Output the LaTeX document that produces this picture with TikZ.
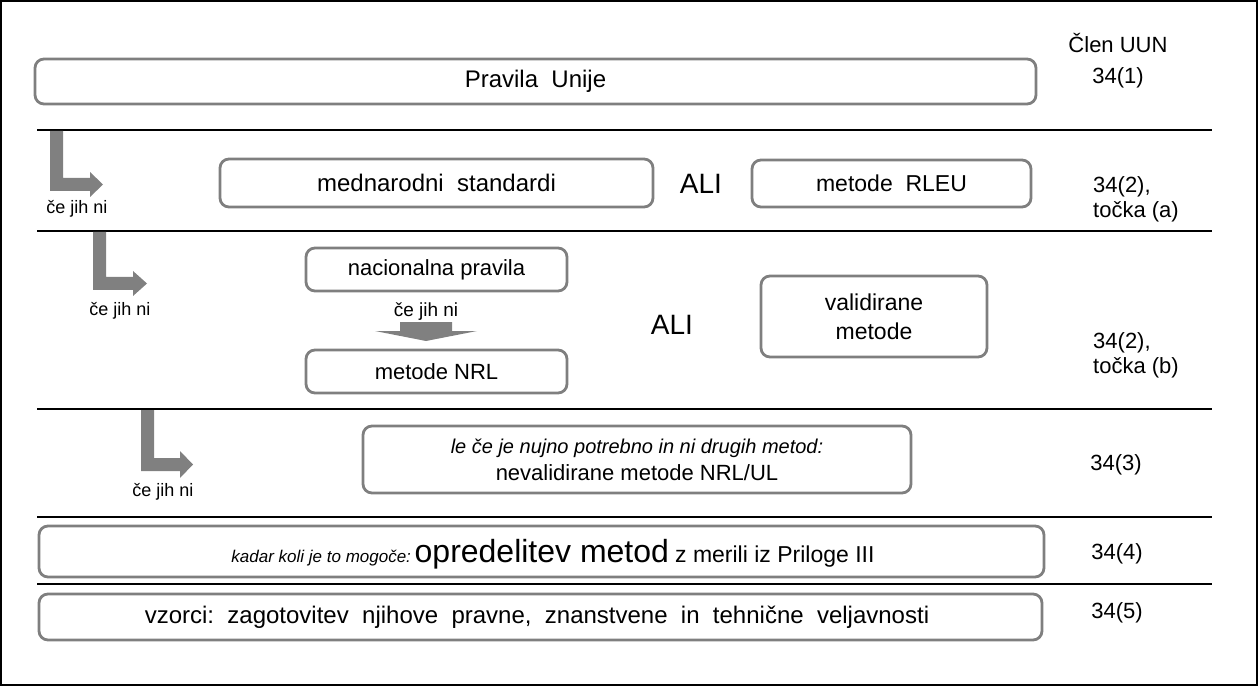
\documentclass[tikz,border=0pt]{standalone}
\usepackage{fontspec}
\setmainfont{Liberation Sans}
\definecolor{boxgray}{HTML}{7F7F7F}
\definecolor{arrgray}{HTML}{808080}
\newcommand{\fs}[1]{\fontsize{#1}{#1}\selectfont}
\begin{document}
\begin{tikzpicture}[x=1pt,y=-1pt,
  gbox/.style={draw=boxgray,line width=2.8pt,rounded corners=9pt,inner sep=0pt,align=center,font=\fs{22}},
  txt/.style={inner sep=0pt,align=center,font=\fs{22}},
  ali/.style={inner sep=0pt,font=\fs{28}},
  small/.style={inner sep=0pt,font=\fs{18}},
  sep/.style={line width=1.6pt,black},
  larrow/.style={fill=arrgray,draw=none}]
\useasboundingbox (0,0) rectangle (1259,687);
\draw[line width=1.8pt] (1,1) rectangle (1257,685);
% separators
\coordinate (s1l) at (37,130); \coordinate (s1r) at (1212,130);
\coordinate (s2l) at (37,231); \coordinate (s2r) at (1212,231);
\coordinate (s3l) at (37,409); \coordinate (s3r) at (1212,409);
\coordinate (s4l) at (37,517); \coordinate (s4r) at (1212,517);
\coordinate (s5l) at (37,584); \coordinate (s5r) at (1212,584);
\draw[sep] (s1l) -- (s1r);
\draw[sep] (s2l) -- (s2r);
\draw[sep] (s3l) -- (s3r);
\draw[sep] (s4l) -- (s4r);
\draw[sep] (s5l) -- (s5r);
% header
\node[txt] (hdr) at (1118,43) {Člen UUN};
% row 1
\node[gbox,minimum width=1001pt,minimum height=45pt] (pu) at (535.5,81.5) {\fs{24}Pravila\ \ Unije};
\node[txt] (c1) at (1118,78) {34(1)};
% row 2
\node[gbox,minimum width=433pt,minimum height=48pt] (ms) at (436.5,183) {\fs{24}mednarodni\ \ standardi};
\node[ali] (ali1) at (701,184) {ALI};
\node[gbox,minimum width=279pt,minimum height=47pt] (rleu) at (891.5,183.5) {\fs{23}metode\ \ RLEU};
\node[txt,anchor=west,align=left] (c2) at (1093,199) {34(2),\\[3pt]točka (a)};
\fill[larrow] (50,131) -- (63,131) -- (63,178) -- (90,178) -- (90,172) -- (103,184.5) -- (90,197) -- (90,191) -- (50,191) -- cycle;
\node[small] (cj1) at (77,209) {če jih ni};
% row 3
\node[gbox,minimum width=261pt,minimum height=43pt] (np) at (436.5,269.5) {nacionalna pravila};
\node[gbox,minimum width=261pt,minimum height=43pt] (nrl) at (436.5,371.5) {metode NRL};
\node[small,font=\fs{19}] (cj2) at (426,312) {če jih ni};
\fill[larrow] (400,322) -- (452,322) -- (452,331) -- (477,331) -- (426,341) -- (375,331) -- (400,331) -- cycle;
\node[ali] (ali2) at (672,325) {ALI};
\node[gbox,minimum width=226pt,minimum height=81pt,font=\fs{23}] (val) at (874,316.5) {validirane\\[6pt]metode};
\node[txt,anchor=west,align=left] (c3) at (1093,355) {34(2),\\[3pt]točka (b)};
\fill[larrow] (93,232) -- (106,232) -- (106,277) -- (133,277) -- (133,271) -- (147,283.5) -- (133,296) -- (133,290) -- (93,290) -- cycle;
\node[small] (cj3) at (120,311) {če jih ni};
% row 4
\node[gbox,minimum width=548pt,minimum height=67pt] (nev) at (637,459.5) {{\itshape\fs{20}le če je nujno potrebno in ni drugih metod:}\\[5pt]nevalidirane metode NRL/UL};
\node[txt] (c4) at (1116,465) {34(3)};
\fill[larrow] (141,410) -- (154,410) -- (154,458) -- (180,458) -- (180,451) -- (193,464.5) -- (180,478) -- (180,471) -- (141,471) -- cycle;
\node[small] (cj4) at (163,492) {če jih ni};
% row 5
\node[gbox,minimum width=1005pt,minimum height=51pt] (opr) at (541.5,551.5) {};
\node[txt,anchor=base] (oprt) at (553,562) {{\itshape\fs{17}kadar koli je to mogoče:}\,{\fs{32}opredelitev metod}\ {\fs{23}z merili iz Priloge III}};
\node[txt] (c5) at (1117,554) {34(4)};
% row 6
\node[gbox,minimum width=1003pt,minimum height=46pt] (vz) at (540.5,617) {};
\node[txt] (vzt) at (537,617) {\fs{24}vzorci:\ \ zagotovitev\ \ njihove\ \ pravne,\ \ znanstvene\ \ in\ \ tehnične\ \ veljavnosti};
\node[txt] (c6) at (1117,613) {34(5)};
\end{tikzpicture}
\end{document}
